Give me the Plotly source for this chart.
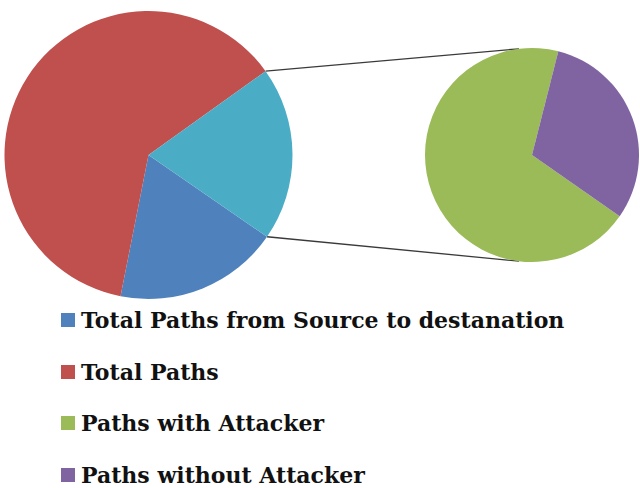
import math
import plotly.graph_objects as go

# Main pie: two named slices plus the combined share that is broken out on the right
main_labels = ["Total Paths from Source to destanation", "Total Paths", "Other"]
main_values = [18.5, 62.0, 19.5]
main_colors = ["#4F81BD", "#C0504D", "#4BACC6"]

# Secondary pie: how the "Other" share splits up
sub_labels = ["Paths with Attacker", "Paths without Attacker"]
sub_values = [13.5, 6.0]
sub_colors = ["#9BBB59", "#8064A2"]

legend_labels = ["Total Paths from Source to destanation", "Total Paths",
                 "Paths with Attacker", "Paths without Attacker"]
legend_colors = ["#4F81BD", "#C0504D", "#9BBB59", "#8064A2"]

W, H = 640, 488
FONT = "DejaVu Serif"

# Pixel geometry of the two pies
main_cx, main_cy, main_r = 148.5, 155.0, 144.0
sub_cx, sub_cy, sub_r = 532.0, 155.0, 107.0
main_rotation = 124.6   # degrees clockwise from 12 o'clock where the first slice starts
sub_rotation = 125.0

# Key layout: row centres (px from top), swatch box and text start
key_rows = [320, 372, 423, 475]
swatch_left, swatch_size = 61, 14
text_left = 79


def domain(cx, cy, r):
    return dict(x=[(cx - r) / W, (cx + r) / W],
                y=[1 - (cy + r) / H, 1 - (cy - r) / H])


fig = go.Figure()

fig.add_trace(go.Pie(
    labels=main_labels, values=main_values, sort=False,
    direction="clockwise", rotation=main_rotation,
    marker=dict(colors=main_colors, line=dict(width=0)),
    textinfo="none", hoverinfo="label+value", showlegend=False,
    domain=domain(main_cx, main_cy, main_r),
))

fig.add_trace(go.Pie(
    labels=sub_labels, values=sub_values, sort=False,
    direction="clockwise", rotation=sub_rotation,
    marker=dict(colors=sub_colors, line=dict(width=0)),
    textinfo="none", hoverinfo="label+value", showlegend=False,
    domain=domain(sub_cx, sub_cy, sub_r),
))

# Colour key: a swatch and a bold label per row
for lab, col, row in zip(legend_labels, legend_colors, key_rows):
    fig.add_shape(type="rect", xref="paper", yref="paper",
                  x0=swatch_left / W, x1=(swatch_left + swatch_size) / W,
                  y0=1 - (row + swatch_size / 2) / H, y1=1 - (row - swatch_size / 2) / H,
                  fillcolor=col, line=dict(width=0))
    fig.add_annotation(
        x=text_left / W, y=1 - row / H, xref="paper", yref="paper",
        xanchor="left", yanchor="middle", showarrow=False, text=lab,
        font=dict(family=FONT, size=22, color="#111111", weight="bold"),
    )

# Connector lines from the edges of the "Other" slice to the secondary pie
total = sum(main_values)
start = main_rotation + 360 * sum(main_values[:2]) / total
end = start + 360 * main_values[2] / total


def px_point(cx, cy, r, ang):
    a = math.radians(ang)
    return cx + r * math.sin(a), cy - r * math.cos(a)


p_top = px_point(main_cx, main_cy, main_r, start)
p_bot = px_point(main_cx, main_cy, main_r, end)
q_top = px_point(sub_cx, sub_cy, sub_r, -7)
q_bot = px_point(sub_cx, sub_cy, sub_r, 187)

for (x0, y0), (x1, y1) in [(p_top, q_top), (p_bot, q_bot)]:
    fig.add_shape(type="line", xref="paper", yref="paper",
                  x0=x0 / W, y0=1 - y0 / H, x1=x1 / W, y1=1 - y1 / H,
                  line=dict(color="#3a3a3a", width=1.3), layer="below")

fig.update_layout(
    width=W, height=H, autosize=False,
    margin=dict(l=0, r=0, t=0, b=0),
    paper_bgcolor="white", plot_bgcolor="white",
    showlegend=False,
    xaxis=dict(visible=False), yaxis=dict(visible=False),
)

fig.write_html("out.html")
